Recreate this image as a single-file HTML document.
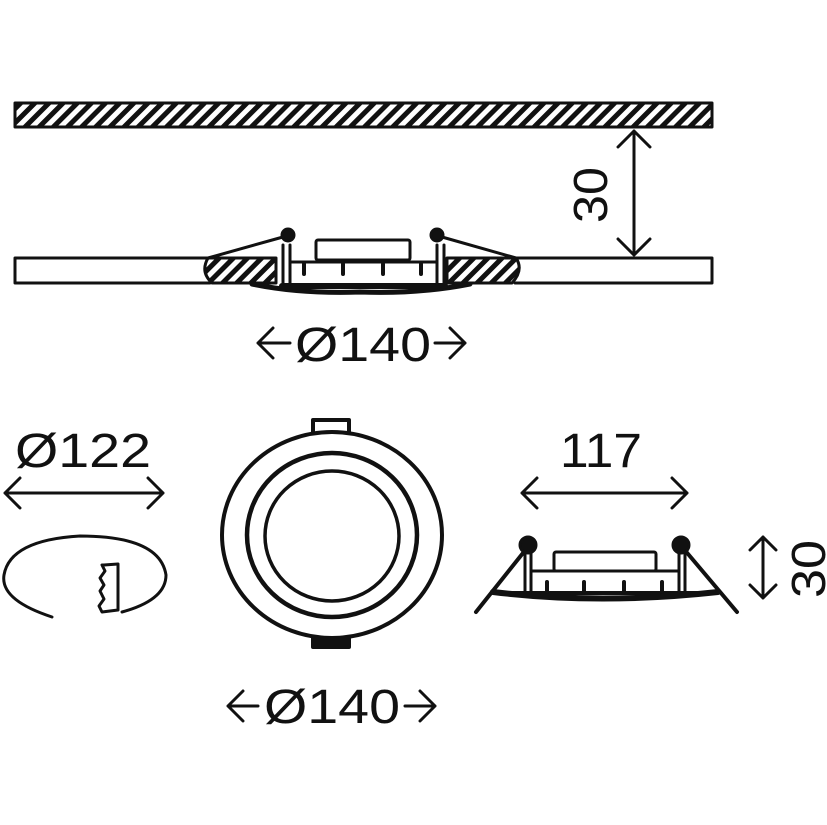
<!DOCTYPE html>
<html><head><style>html,body{margin:0;padding:0;background:#fff}svg{display:block}</style></head>
<body>
<svg width="827" height="825" viewBox="0 0 827 825" xmlns="http://www.w3.org/2000/svg">
<defs>
<pattern id="h" patternUnits="userSpaceOnUse" width="10" height="10" patternTransform="rotate(45)">
<rect width="10" height="10" fill="#111"/><rect x="0" y="0" width="5" height="10" fill="#fff"/>
</pattern>
</defs>
<g stroke="#111" fill="none" stroke-width="3" stroke-linecap="round" stroke-linejoin="round">
<rect x="15" y="103" width="697" height="24" fill="url(#h)" stroke-width="3"/>
<path d="M210 258 H15 V283 H210"/>
<path d="M515 258 H712 V283 H515"/>
<path d="M208 258 Q200 272 212 283 H276 V258 Z" fill="url(#h)"/>
<path d="M447 258 V283 H512 Q524 270 516 258 Z" fill="url(#h)"/>
<path d="M252 284 Q300 294 360 292 Q420 294 470 284" stroke-width="5"/>
<line x1="282" y1="286" x2="445" y2="286" stroke-width="6"/>
<path d="M283 284 V245 M290 284 V245 M437 284 V245 M444 284 V245"/>
<path d="M290 262 H437"/>
<rect x="316" y="240" width="94" height="20" rx="2"/>
<path d="M304 264 v10 M343 264 v10 M383 264 v10 M421 264 v10" stroke-width="4"/>
<circle cx="288" cy="235" r="6" fill="#111"/><circle cx="437" cy="235" r="6" fill="#111"/>
<path d="M283 237 L208 258 M442 237 L516 258" stroke-width="3"/>
<path d="M634 131 V255 M618 147 L634 131 L650 147 M618 239 L634 255 L650 239"/>
<path d="M258 343 H290 M273 328 L258 343 L273 358 M435 343 H465 M450 328 L465 343 L450 358"/>
<path d="M5 493 H163 M20 478 L5 493 L20 508 M148 478 L163 493 L148 508"/>
<path d="M522 493 H687 M537 478 L522 493 L537 508 M672 478 L687 493 L672 508"/>
<path d="M228 706 H258 M243 691 L228 706 L243 721 M405 706 H435 M420 691 L435 706 L420 721"/>
<path d="M763 537 V598 M750 550 L763 537 L776 550 M750 585 L763 598 L776 585"/>
<path d="M52 617 Q0 600 4 575 Q10 540 80 536 Q160 536 166 575 Q166 600 122 612"/>
<path d="M102 612 L99 606 L104 599 L100 591 L104 585 L100 578 L105 571 L102 565 L104 565 L118 564 V610 Z" stroke-width="3"/>
<ellipse cx="332" cy="535" rx="110" ry="103" stroke-width="4"/>
<ellipse cx="332" cy="535" rx="85" ry="82" stroke-width="4.5"/>
<ellipse cx="332" cy="536" rx="67" ry="65" stroke-width="3.5"/>
<path d="M313 432 V420 H349 V432" stroke-width="4"/>
<path d="M313 638 V647 H349 V638" stroke-width="4" fill="#111"/>
<path d="M476 612 L527 548 M737 612 L683 548" stroke-width="4"/>
<path d="M493 592 Q600 605 718 592" stroke-width="6"/>
<line x1="494" y1="593" x2="715" y2="593" stroke-width="4"/>
<path d="M525 592 V552 M531 592 V552 M679 592 V552 M685 592 V552"/>
<path d="M531 571 H679"/>
<rect x="554" y="552" width="102" height="19" rx="2"/>
<path d="M547 582 v10 M584 582 v10 M624 582 v10 M662 582 v10" stroke-width="4"/>
<circle cx="528" cy="545" r="8" fill="#111"/><circle cx="681" cy="545" r="8" fill="#111"/>
</g>
<g font-family="Liberation Sans, sans-serif" fill="#111" font-size="48">
<text x="295" y="361" textLength="136" lengthAdjust="spacingAndGlyphs">Ø140</text>
<text x="15" y="467" textLength="136" lengthAdjust="spacingAndGlyphs">Ø122</text>
<text x="560" y="467" textLength="82" lengthAdjust="spacingAndGlyphs">117</text>
<text x="264" y="723" textLength="136" lengthAdjust="spacingAndGlyphs">Ø140</text>
<text transform="translate(607,223) rotate(-90)" textLength="56" lengthAdjust="spacingAndGlyphs">30</text>
<text transform="translate(825,598) rotate(-90)" textLength="58" lengthAdjust="spacingAndGlyphs">30</text>
</g>
</svg>
</body></html>
